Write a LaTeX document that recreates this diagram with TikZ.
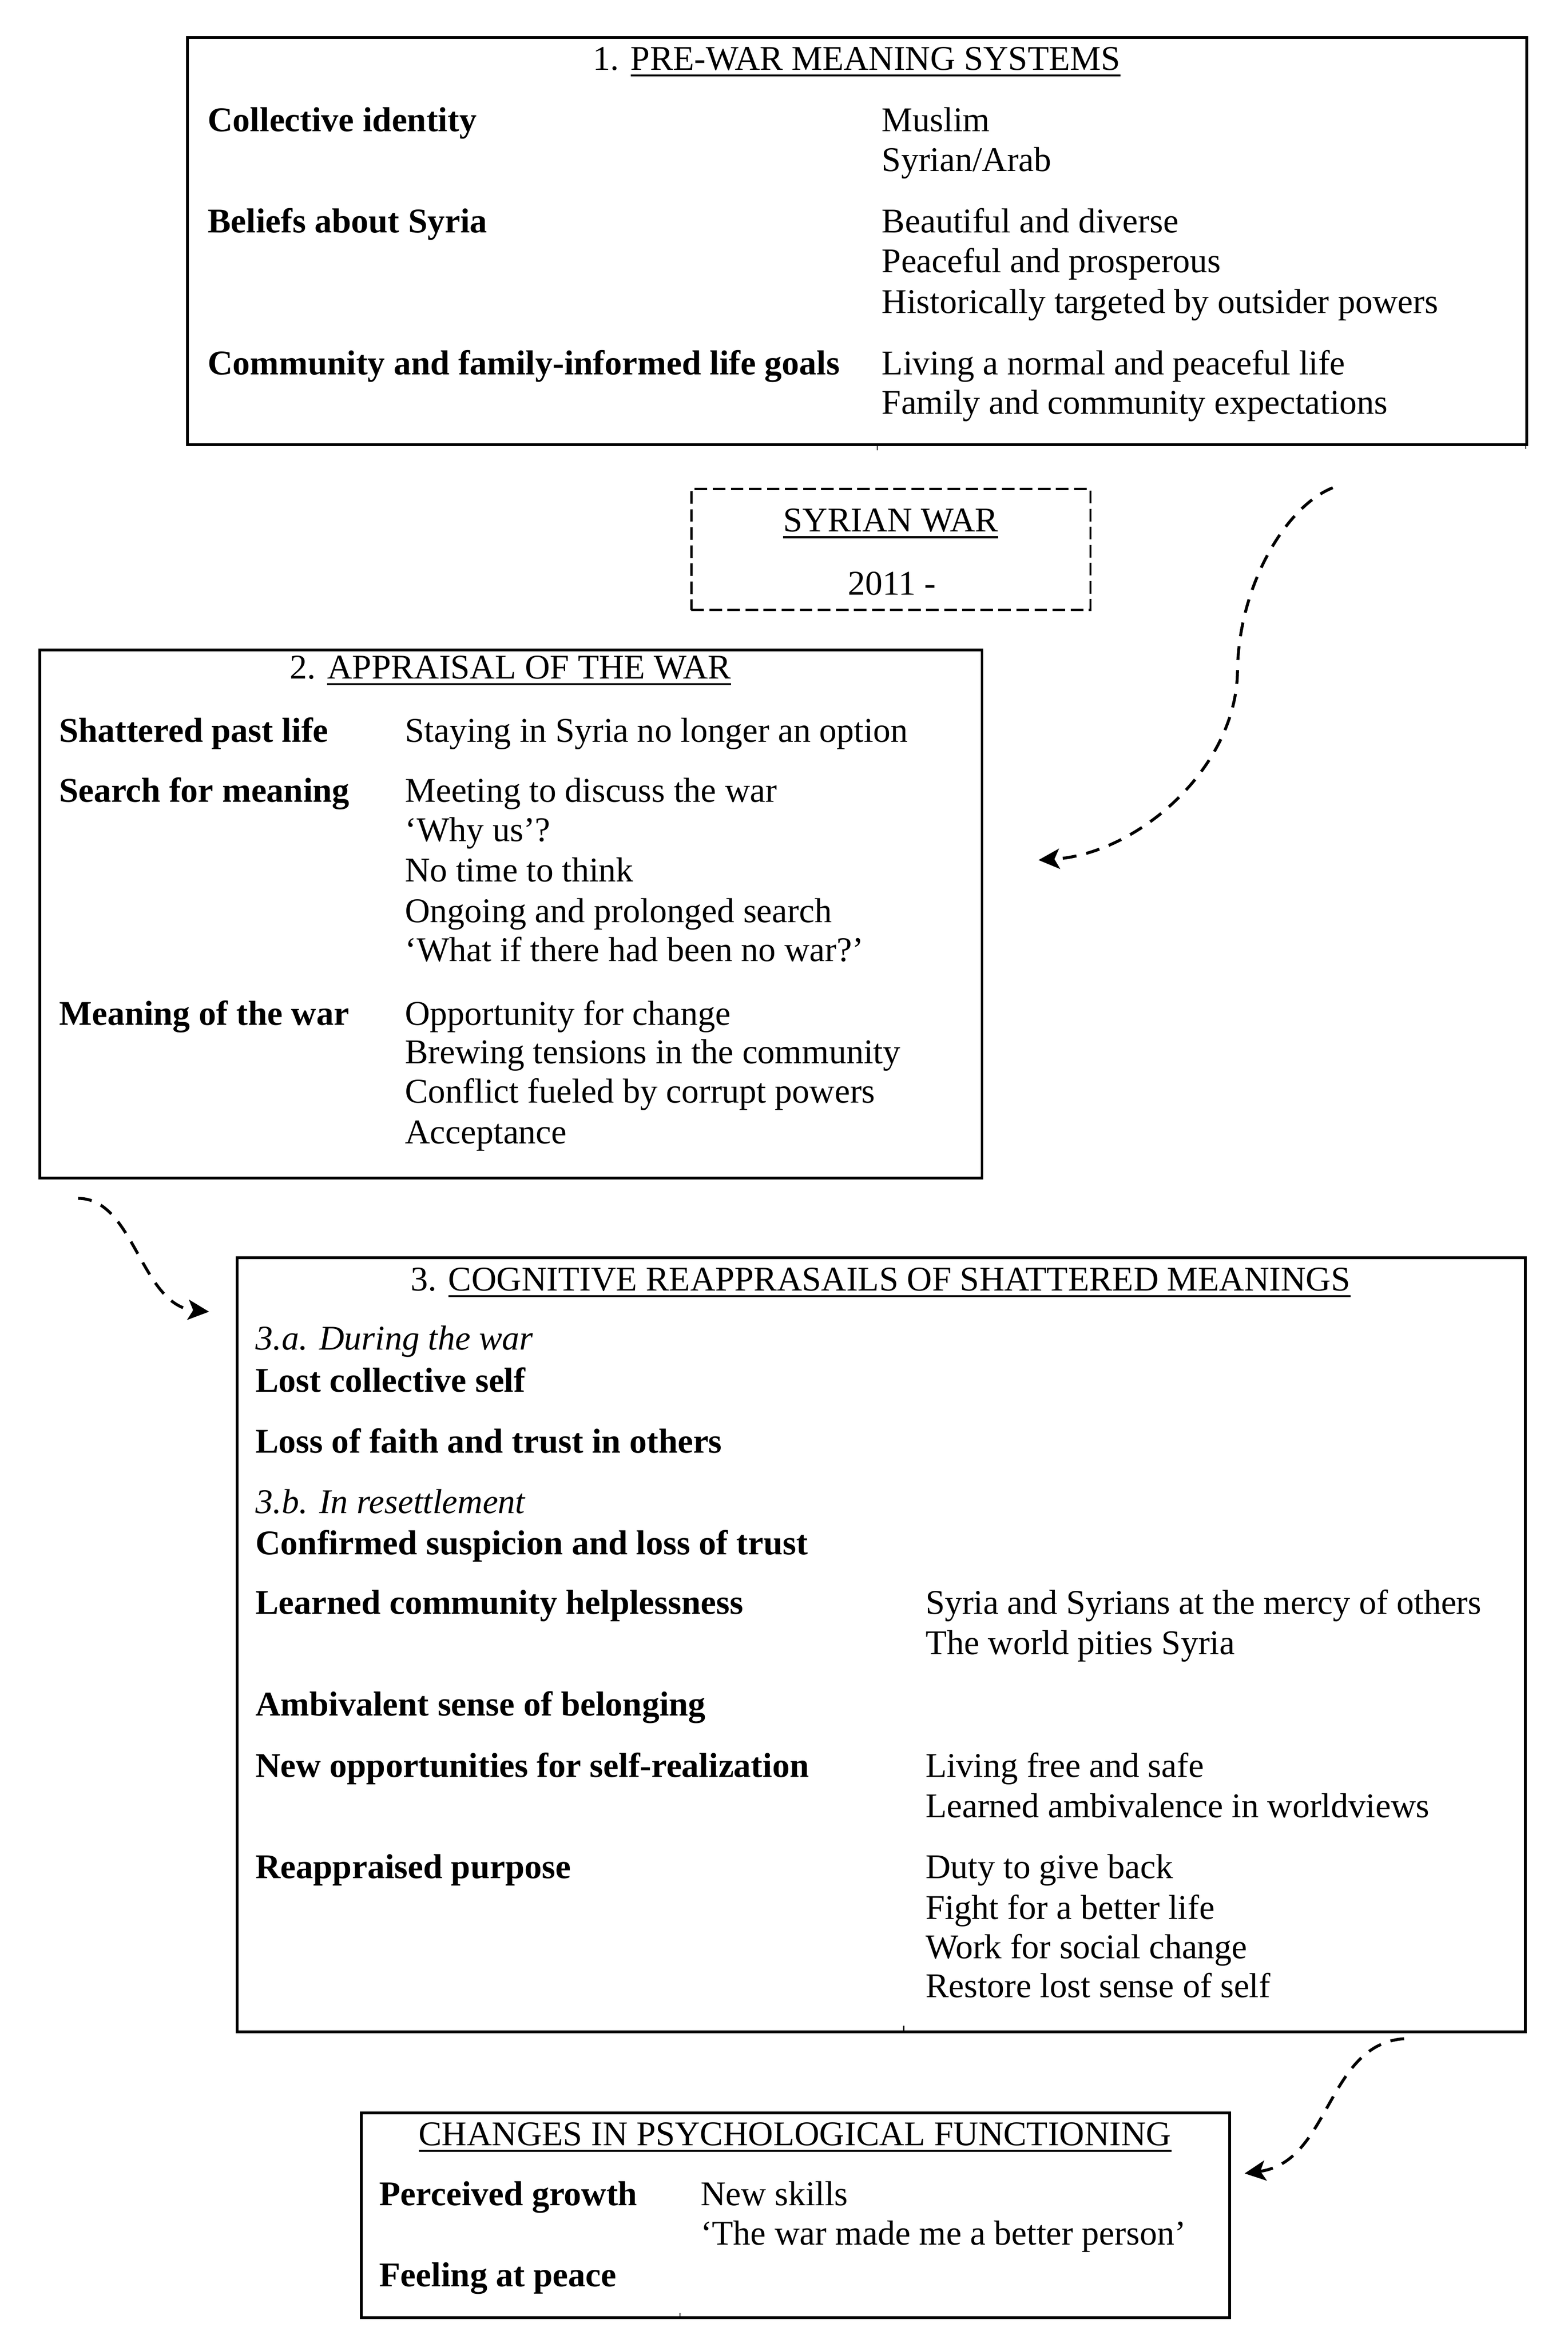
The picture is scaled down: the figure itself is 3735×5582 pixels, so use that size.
\documentclass[tikz,border=0pt]{standalone}
\usepackage{fontspec}
\setmainfont{Liberation Serif}
\usetikzlibrary{arrows.meta}
\newlength\ulw
\newcommand\ulin[1]{\settowidth\ulw{#1}\rlap{\rule[-0.155cm]{\ulw}{0.05cm}}#1}
\newcommand\fsz{\fontsize{23.5pt}{27pt}\selectfont}
\begin{document}
\begin{tikzpicture}[x=0.01cm,y=-0.01cm,
  boxnode/.style={draw,line width=0.065cm,inner sep=0pt,outer sep=0pt,anchor=north west},
  dashbox/.style={draw,line width=0.05cm,dash pattern=on 0.30cm off 0.13cm,inner sep=0pt,outer sep=0pt,anchor=north west},
  txt/.style={anchor=base west,inner sep=0pt,outer sep=0pt,font=\fsz},
  hd/.style={txt,font=\fsz\bfseries},
  itx/.style={txt,font=\fsz\itshape},
  ttl/.style={anchor=base,inner sep=0pt,outer sep=0pt,font=\fsz},
  flow/.style={line width=0.07cm,dash pattern=on 0.33cm off 0.24cm,
    -{Stealth[length=0.5cm,width=0.48cm,inset=0.12cm]}},
  tick/.style={line width=0.03cm}]
\useasboundingbox (0,0) rectangle (3735,5582);

% ---- Box 1
\node[boxnode,minimum width=31.88cm,minimum height=9.70cm] (b1) at (447,89) {};
\node[ttl] (t1) at (2041,167) {1. \ulin{PRE-WAR MEANING SYSTEMS}};
\node[hd] (b1l1) at (495,313) {Collective identity};
\node[txt] (b1r1) at (2101,313) {Muslim};
\node[txt] (b1r2) at (2101,408) {Syrian/Arab};
\node[hd] (b1l2) at (495,554) {Beliefs about Syria};
\node[txt] (b1r3) at (2101,554) {Beautiful and diverse};
\node[txt] (b1r4) at (2101,649) {Peaceful and prosperous};
\node[txt] (b1r5) at (2101,746) {Historically targeted by outsider powers};
\node[hd] (b1l3) at (495,893) {Community and family-informed life goals};
\node[txt] (b1r6) at (2101,893) {Living a normal and peaceful life};
\node[txt] (b1r7) at (2101,986) {Family and community expectations};
\draw[tick] (3635,1059) -- (3635,1069);
\draw[tick] (2090,1059) -- (2090,1073);

% ---- Syrian war
\node[dashbox,minimum width=9.50cm,minimum height=2.88cm] (sw) at (1647,1165) {};
\node[ttl] (swt) at (2122,1267) {\ulin{SYRIAN WAR}};
\node[ttl] (swy) at (2125,1417) {2011 -};

% ---- Box 2
\node[boxnode,minimum width=22.43cm,minimum height=12.58cm] (b2) at (95,1548) {};
\node[ttl] (t2) at (1216,1617) {2. \ulin{APPRAISAL OF THE WAR}};
\node[hd] (b2l1) at (141,1768) {Shattered past life};
\node[txt] (b2r1) at (965,1768) {Staying in Syria no longer an option};
\node[hd] (b2l2) at (141,1911) {Search for meaning};
\node[txt] (b2r2) at (965,1911) {Meeting to discuss the war};
\node[txt] (b2r3) at (965,2004) {‘Why us’?};
\node[txt] (b2r4) at (965,2101) {No time to think};
\node[txt] (b2r5) at (965,2198) {Ongoing and prolonged search};
\node[txt] (b2r6) at (965,2290) {‘What if there had been no war?’};
\node[hd] (b2l3) at (141,2442) {Meaning of the war};
\node[txt] (b2r7) at (965,2442) {Opportunity for change};
\node[txt] (b2r8) at (965,2534) {Brewing tensions in the community};
\node[txt] (b2r9) at (965,2627) {Conflict fueled by corrupt powers};
\node[txt] (b2r10) at (965,2724) {Acceptance};

% ---- Box 3
\node[boxnode,minimum width=30.67cm,minimum height=18.44cm] (b3) at (565,2996) {};
\node[ttl] (t3) at (2098,3075) {3. \ulin{COGNITIVE REAPPRASAILS OF SHATTERED MEANINGS}};
\node[itx] (b3a) at (609,3216) {3.a. During the war};
\node[hd] (b3l1) at (609,3316) {Lost collective self};
\node[hd] (b3l2) at (609,3461) {Loss of faith and trust in others};
\node[itx] (b3b) at (609,3605) {3.b. In resettlement};
\node[hd] (b3l3) at (609,3704) {Confirmed suspicion and loss of trust};
\node[hd] (b3l4) at (609,3845) {Learned community helplessness};
\node[txt] (b3r1) at (2205,3845) {Syria and Syrians at the mercy of others};
\node[txt] (b3r2) at (2205,3941) {The world pities Syria};
\node[hd] (b3l5) at (609,4088) {Ambivalent sense of belonging};
\node[hd] (b3l6) at (609,4234) {New opportunities for self-realization};
\node[txt] (b3r3) at (2205,4234) {Living free and safe};
\node[txt] (b3r4) at (2205,4330) {Learned ambivalence in worldviews};
\node[hd] (b3l7) at (609,4475) {Reappraised purpose};
\node[txt] (b3r5) at (2205,4475) {Duty to give back};
\node[txt] (b3r6) at (2205,4572) {Fight for a better life};
\node[txt] (b3r7) at (2205,4666) {Work for social change};
\node[txt] (b3r8) at (2205,4759) {Restore lost sense of self};
\draw[tick] (2153,4826) -- (2153,4840);

% ---- Box 4
\node[boxnode,minimum width=20.67cm,minimum height=4.87cm] (b4) at (861,5034) {};
\node[ttl] (t4) at (1894,5111) {\ulin{CHANGES IN PSYCHOLOGICAL FUNCTIONING}};
\node[hd] (b4l1) at (904,5254) {Perceived growth};
\node[txt] (b4r1) at (1669,5254) {New skills};
\node[txt] (b4r2) at (1669,5348) {‘The war made me a better person’};
\node[hd] (b4l2) at (904,5447) {Feeling at peace};
\draw[tick] (1620,5511) -- (1620,5521);

% ---- Arrows
\coordinate (a1s) at (3175,1162);
\coordinate (a1m) at (2948,1600);
\coordinate (a1e) at (2474,2049);
\draw[flow] (a1s) .. controls (3060,1208) and (2950,1400) .. (a1m)
  .. controls (2945,1830) and (2710,2035) .. (a1e);

\coordinate (a2s) at (186,2855);
\coordinate (a2e) at (498,3125);
\draw[flow] (a2s) .. controls (320,2855) and (335,3110) .. (a2e);

\coordinate (a3s) at (3345,4857);
\coordinate (a3e) at (2965,5178);
\draw[flow] (a3s) .. controls (3160,4870) and (3170,5150) .. (a3e);
\end{tikzpicture}
\end{document}
